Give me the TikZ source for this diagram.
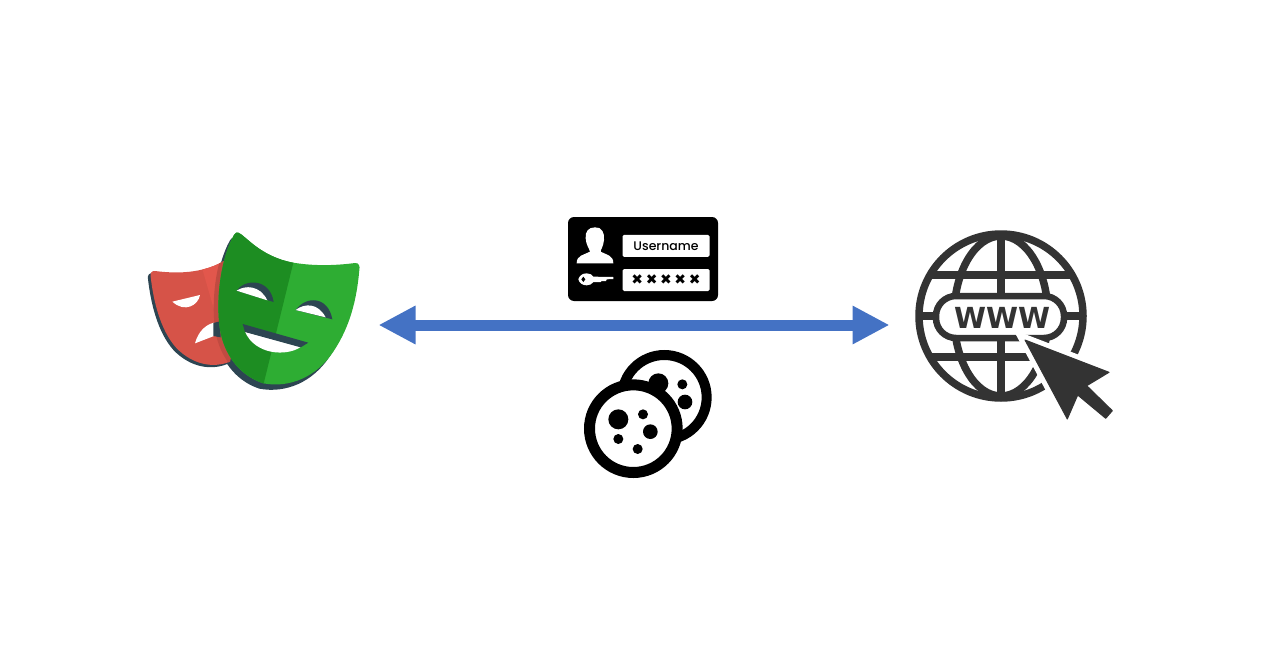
\documentclass[tikz,border=0pt]{standalone}
\usepackage{fontspec}
\setmainfont{Poppins Medium}
\newfontfamily\wwwfont[Scale=1]{DejaVu Sans}
\usepackage{tikz}
\usetikzlibrary{arrows.meta}

\definecolor{maskshadow}{HTML}{2D4552}
\definecolor{maskred}{HTML}{D65348}
\definecolor{masklight}{HTML}{E2574C}
\definecolor{maskdark}{HTML}{C04B41}
\definecolor{maskgreen}{HTML}{2EAD33}
\definecolor{maskforest}{HTML}{1D8D22}
\definecolor{linkblue}{HTML}{4472C4}
\definecolor{globegrey}{HTML}{333333}

\tikzset{
  loginbox/.style={fill=white,rounded corners=1.5pt,minimum width=87pt,minimum height=22pt,inner sep=0pt},
  globeline/.style={draw=globegrey,line width=7.5pt},
}

\def\greenmask{(325,38) .. controls (345,45) and (390,110) .. (490,128)
  .. controls (560,140) and (630,135) .. (675,129) .. controls (688,128) and (690,140) .. (688,150)
  .. controls (680,240) and (660,320) .. (610,395) .. controls (560,470) and (480,505) .. (400,490)
  .. controls (340,470) and (290,420) .. (272,340) .. controls (255,250) and (270,120) .. (312,45)
  .. controls (316,38) and (320,36) .. (325,38) -- cycle}
\def\redmask{(75,153) .. controls (130,160) and (220,165) .. (295,115) -- (320,300) -- (300,425)
  .. controls (250,445) and (190,435) .. (140,385) .. controls (90,330) and (70,240) .. (62,170)
  .. controls (60,158) and (66,152) .. (75,153) -- cycle}

\begin{document}
\begin{tikzpicture}[x=1pt,y=-1pt]
  \useasboundingbox (0,0) rectangle (1280,653);

  % masks
  \begin{scope}[shift={(130,220)},scale=1/3]
    \fill[maskshadow,shift={(-12,16)}] \greenmask;
    \fill[maskshadow,shift={(-8,7)}] \redmask;
    \fill[maskred] \redmask;
    \begin{scope}
      \clip \redmask;
      \fill[masklight] (215,140) -- (258,290) -- (340,290) -- (340,100) -- cycle;
      \fill[maskdark,shift={(-14,4)}] \greenmask;
    \end{scope}
    \fill[white] (127,245) -- (210,225) .. controls (205,255) and (165,280) .. (127,245) -- cycle;
    \fill[white] (195,370) .. controls (205,335) and (225,315) .. (252,308) -- (252,348) -- cycle;
    \fill[maskshadow] (250,309) -- (270,304) -- (272,352) -- (250,348) -- cycle;
    \fill[maskgreen] \greenmask;
    \begin{scope}
      \clip \greenmask;
      \fill[maskforest] (240,20) -- (500,20) -- (490,128) -- (400,495) -- (240,495) -- cycle;
    \end{scope}
    \fill[maskshadow] (320,212) .. controls (345,175) and (420,175) .. (431,246) -- cycle;
    \fill[white] (320,212) .. controls (345,195) and (390,195) .. (412,241) -- cycle;
    \fill[maskshadow] (497,270) .. controls (530,225) and (595,230) .. (607,298) -- cycle;
    \fill[white] (497,270) .. controls (525,248) and (565,250) .. (587,292) -- cycle;
    \fill[white] (345,335) -- (512,381) .. controls (470,410) and (375,405) .. (345,335) -- cycle;
    \fill[maskshadow] (338,312) -- (535,368) -- (512,382) -- (345,336) -- cycle;
  \end{scope}

  % link
  \coordinate (maskend) at (378.5,325);
  \coordinate (siteend) at (889.5,325);
  \draw[linkblue,line width=11pt,{Triangle[length=37pt,width=36pt]}-{Triangle[length=37pt,width=36pt]}] (maskend) -- (siteend);

  % login card
  \node[fill=black,rounded corners=6pt,minimum width=150pt,minimum height=84pt,inner sep=0pt] (card) at (643,259) {};
  \node[loginbox,font=\fontsize{12.5}{14}\selectfont] (username) at (666,245.8) {Username};
  \node[loginbox,font=\fontsize{14}{16}\wwwfont] (password) at (666,280) {✖\hspace{2.6pt}✖\hspace{2.6pt}✖\hspace{2.6pt}✖\hspace{2.6pt}✖};
  \begin{scope}[shift={(560,210)},scale=1/3]
    \fill[white] (105,52) .. controls (125,50) and (135,70) .. (132,90) .. controls (130,110) and (122,118) .. (122,125)
      .. controls (140,135) and (160,135) .. (160,160) -- (50,160) .. controls (50,135) and (72,135) .. (90,125)
      .. controls (88,115) and (78,105) .. (77,85) .. controls (75,65) and (85,52) .. (105,52) -- cycle;
    \fill[white] (55,208) .. controls (58,198) and (66,190) .. (80,190) .. controls (90,190) and (96,194) .. (100,200)
      -- (160,201) -- (160,207) -- (140,208) -- (138,213) -- (125,213) -- (122,216) -- (100,216)
      .. controls (96,222) and (90,226) .. (80,226) .. controls (66,226) and (58,218) .. (55,208) -- cycle;
    \fill[black] (64,208) -- (70,200) -- (76,208) -- (70,216) -- cycle;
  \end{scope}

  % cookies
  \begin{scope}[shift={(575,340)},scale=1/3]
    \fill[white] (268,172) circle (127);
    \draw[black,line width=10pt] (268,172) circle (127);
    \fill[black] (250,130) circle (30);
    \fill[black] (322,133) circle (15);
    \fill[black] (330,186) circle (22);
    \fill[white] (175,266) circle (131.5);
    \draw[black,line width=11pt] (175,266) circle (131.5);
    \fill[black] (130,238) circle (30);
    \fill[black] (204,223) circle (15);
    \fill[black] (226,275) circle (22);
    \fill[black] (130,297) circle (15);
    \fill[black] (188,327) circle (15);
  \end{scope}

  % globe
  \draw[globeline] (1001,316) circle (82);
  \draw[globeline] (1001,316) ellipse (47 and 80);
  \draw[globeline] (1001,234) -- (1001,398);
  \draw[globeline] (930,275) -- (1072,275);
  \draw[globeline] (930,357) -- (1072,357);
  \draw[globeline] (919,316) -- (1083,316);
  \node[draw=globegrey,line width=6.5pt,fill=white,rounded corners=20pt,minimum width=128pt,minimum height=42pt,inner sep=0pt] (pill) at (1000,317) {};
  \node[text=globegrey,font=\fontsize{29}{32}\wwwfont\bfseries,inner sep=0pt] (www) at (1002,318) {WWW};
  \filldraw[globegrey,line join=round,line width=1pt,preaction={draw=white,line width=11pt}]
    (1025,340) -- (1109,372.3) -- (1086.7,385.7) -- (1112.3,410.7) -- (1105.7,418.3) -- (1077.7,395) -- (1067.3,419) -- cycle;
\end{tikzpicture}
\end{document}
